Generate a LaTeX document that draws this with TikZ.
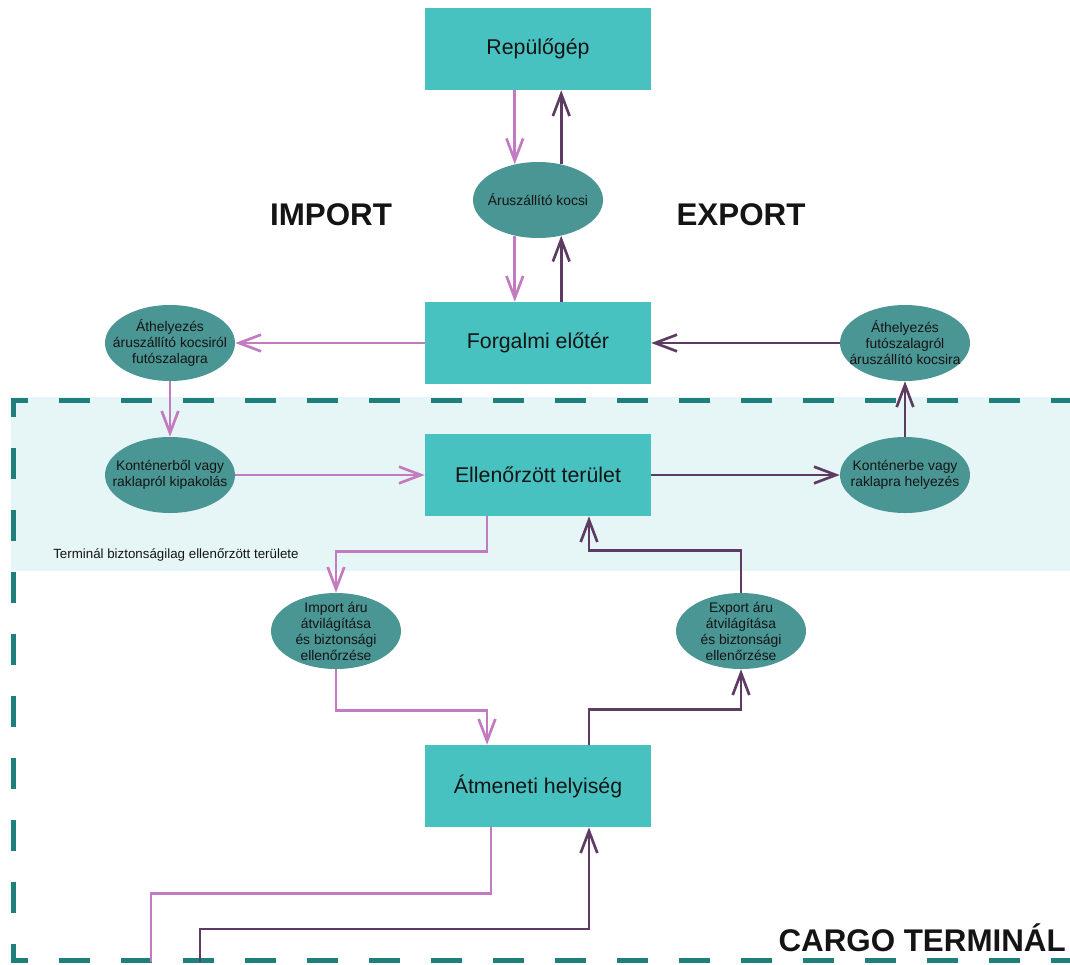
\documentclass[tikz,border=0pt]{standalone}
\usepackage{fontspec}
\setmainfont{Liberation Sans}
\usetikzlibrary{arrows.meta,shapes.geometric,calc}
\definecolor{boxfill}{HTML}{48C2C0}
\definecolor{ovalfill}{HTML}{4A9694}
\definecolor{zonefill}{HTML}{E6F6F6}
\definecolor{zoneline}{HTML}{1E7F7B}
\definecolor{impcol}{HTML}{C27BC0}
\definecolor{expcol}{HTML}{5E3B63}
\definecolor{ink}{HTML}{141414}
\begin{document}
\begin{tikzpicture}[x=0.75pt,y=-0.75pt,
  box/.style={rectangle, fill=boxfill, minimum width=169.5pt, minimum height=61.5pt,
    inner sep=0pt, font=\fontsize{16}{19}\selectfont, text=ink},
  oval/.style={ellipse, fill=ovalfill, minimum width=97.5pt, minimum height=57pt, inner sep=0pt},
  ovaltext/.style={align=center, inner sep=0pt, font=\fontsize{10.4}{12}\selectfont, text=ink},
  flow/.style={line width=2pt, line join=miter, -{Straight Barb[length=16.5pt,width=12.5pt]}},
  impflow/.style={flow, draw=impcol},
  expflow/.style={flow, draw=expcol},
  plainimp/.style={line width=2pt, draw=impcol},
  plainexp/.style={line width=2pt, draw=expcol},
  heading/.style={inner sep=0pt, font=\fontsize{23.5}{28}\selectfont\bfseries, text=ink}
]
\useasboundingbox (0,0) rectangle (1070,964);

% secured zone band and terminal outline
\fill[zonefill] (11,397) rectangle (1070,571);
\draw[zoneline, line width=3.75pt, line join=miter,
      dash pattern=on 23.25pt off 23.25pt, dash phase=44.25pt]
  (1085,400) -- (13.5,400) -- (13.5,960) -- (1085,960);

% headings
\node[heading] (imphead) at (331,215) {IMPORT};
\node[heading] (exphead) at (741,215) {EXPORT};
\node[heading, anchor=east] (cargo) at (1066,938) {CARGO TERMINÁL};
\node[anchor=west, inner sep=0pt, font=\fontsize{10}{12}\selectfont, text=ink] (zonelabel)
  at (53,555) {Terminál biztonságilag ellenőrzött területe};

% main rooms
\node[box] (rep)  at (538,49)  {Repülőgép};
\node[box] (forg) at (538,343) {Forgalmi előtér};
\node[box] (ell)  at (538,475) {Ellenőrzött terület};
\node[box] (atm)  at (538,786) {Átmeneti helyiség};

% handling steps
\node[oval, label={[ovaltext]center:Áruszállító kocsi}] (kocsi) at (538,200) {};
\node[oval, label={[ovaltext]center:Áthelyezés\\áruszállító kocsiról\\futószalagra}] (ath1) at (170,343) {};
\node[oval, label={[ovaltext]center:Konténerből vagy\\raklapról kipakolás}] (kb1) at (170,475) {};
\node[oval, label={[ovaltext]center:Áthelyezés\\futószalagról\\áruszállító kocsira}] (ath2) at (905,343) {};
\node[oval, label={[ovaltext]center:Konténerbe vagy\\raklapra helyezés}] (kb2) at (905,475) {};
\node[oval, label={[ovaltext]center:Import áru\\átvilágítása\\és biztonsági\\ellenőrzése}] (impchk) at (336,631) {};
\node[oval, label={[ovaltext]center:Export áru\\átvilágítása\\és biztonsági\\ellenőrzése}] (expchk) at (741,631) {};

\coordinate (impout) at (151,962);
\coordinate (expin)  at (200,962);

% import flow
\draw[impflow] (rep.south -| kocsi.123) -- (kocsi.123);
\draw[impflow] (kocsi.237) -- (kocsi.237 |- forg.north);
\draw[impflow] (forg.west) -- (ath1.east);
\draw[impflow] (ath1.south) -- (kb1.north);
\draw[impflow] (kb1.east) -- (ell.west);
\draw[impflow] ($(ell.south)+(-51,0)$) -- ++(0,35) -| (impchk.north);
\draw[impflow] (impchk.south) -- ++(0,41) -| ($(atm.north)+(-51,0)$);
\draw[plainimp] ($(atm.south)+(-47,0)$) -- ++(0,66) -| (impout);

% export flow
\draw[expflow] (expin) -- ++(0,-33) -| ($(atm.south)+(51,0)$);
\draw[expflow] ($(atm.north)+(51,0)$) -- ++(0,-35) -| (expchk.south);
\draw[expflow] (expchk.north) -- ++(0,-42) -| ($(ell.south)+(51,0)$);
\draw[expflow] (ell.east) -- (kb2.west);
\draw[expflow] (kb2.north) -- (ath2.south);
\draw[expflow] (ath2.west) -- (forg.east);
\draw[expflow] (kocsi.303 |- forg.north) -- (kocsi.303);
\draw[expflow] (kocsi.57) -- (kocsi.57 |- rep.south);
\end{tikzpicture}
\end{document}
